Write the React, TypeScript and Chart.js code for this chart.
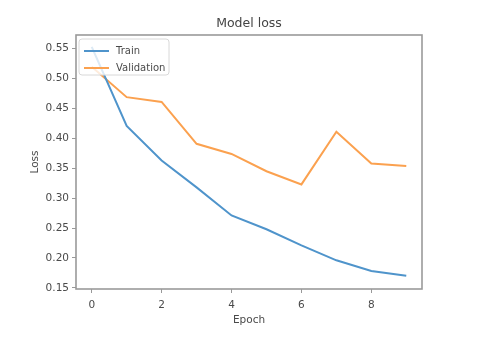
import React, { useEffect, useRef } from "react";
import { Chart, registerables } from "chart.js";

Chart.register(...registerables);

const epochs = [0, 1, 2, 3, 4, 5, 6, 7, 8, 9];
const trainLoss = [0.553, 0.421, 0.363, 0.318, 0.271, 0.248, 0.221, 0.196, 0.178, 0.17];
const valLoss = [0.52, 0.469, 0.461, 0.391, 0.374, 0.345, 0.323, 0.411, 0.358, 0.354];
const seriesNames = ["Train", "Validation"];
const xTicks = [0, 2, 4, 6, 8];
const yTicks = [0.15, 0.2, 0.25, 0.3, 0.35, 0.4, 0.45, 0.5, 0.55];
const titleText = "Model loss";
const xLabel = "Epoch";
const yLabel = "Loss";

const BLUE = "#4f94cb";
const ORANGE = "#fba14f";
const FONT = "'DejaVu Sans', sans-serif";
const TEXT = "#4a4a4a";

const framePlugin = {
  id: "frameLegendTitle",
  afterDraw(chart: any) {
    const { ctx, chartArea } = chart;
    const { left, right, top, bottom } = chartArea;
    const cx = (left + right) / 2;
    const cy = (top + bottom) / 2;
    ctx.save();
    // frame
    ctx.strokeStyle = "#9a9a9a";
    ctx.lineWidth = 1.6;
    ctx.strokeRect(left, top, right - left, bottom - top);
    // title
    ctx.fillStyle = "#444";
    ctx.font = `12.5px ${FONT}`;
    ctx.textAlign = "center";
    ctx.textBaseline = "middle";
    ctx.fillText(titleText, cx, 24);
    // axis titles
    ctx.fillStyle = TEXT;
    ctx.font = `10.5px ${FONT}`;
    ctx.fillText(xLabel, cx, 320);
    ctx.save();
    ctx.translate(35, cy);
    ctx.rotate(-Math.PI / 2);
    ctx.fillText(yLabel, 0, 0);
    ctx.restore();
    // legend
    const lx = left + 3, ly = top + 4, lw = 90, lh = 36;
    ctx.fillStyle = "rgba(255,255,255,0.8)";
    ctx.strokeStyle = "#d8d8d8";
    ctx.lineWidth = 1;
    ctx.beginPath();
    (ctx as any).roundRect(lx, ly, lw, lh, 3);
    ctx.fill();
    ctx.stroke();
    const colors = [BLUE, ORANGE];
    ctx.font = `10px ${FONT}`;
    ctx.textAlign = "left";
    seriesNames.forEach((name, i) => {
      const yy = ly + 12 + i * 17;
      ctx.strokeStyle = colors[i];
      ctx.lineWidth = 2;
      ctx.beginPath();
      ctx.moveTo(lx + 5, yy);
      ctx.lineTo(lx + 30, yy);
      ctx.stroke();
      ctx.fillStyle = TEXT;
      ctx.fillText(name, lx + 37, yy);
    });
    ctx.restore();
  },
};

export default function App() {
  const ref = useRef<HTMLCanvasElement>(null);
  useEffect(() => {
    document.body.style.margin = "0";
    const chart = new Chart(ref.current!, {
      type: "line",
      data: {
        datasets: [
          {
            label: seriesNames[0],
            data: epochs.map((e, i) => ({ x: e, y: trainLoss[i] })),
            borderColor: BLUE,
            borderWidth: 2,
            pointRadius: 0,
            tension: 0,
          },
          {
            label: seriesNames[1],
            data: epochs.map((e, i) => ({ x: e, y: valLoss[i] })),
            borderColor: ORANGE,
            borderWidth: 2,
            pointRadius: 0,
            tension: 0,
          },
        ],
      },
      options: {
        animation: false,
        responsive: false,
        layout: { padding: { left: 0, right: 65, top: 35, bottom: 0 } },
        plugins: {
          legend: { display: false },
          title: { display: false },
          tooltip: { enabled: false },
        },
        scales: {
          x: {
            type: "linear",
            min: -0.45,
            max: 9.45,
            afterBuildTicks: (s: any) => {
              s.ticks = xTicks.map((v) => ({ value: v }));
            },
            afterFit: (s: any) => {
              s.height = 60;
            },
            grid: {
              drawOnChartArea: false,
              drawTicks: true,
              tickLength: 4,
              color: "#999",
            },
            border: { display: false },
            ticks: {
              color: TEXT,
              font: { family: FONT, size: 10.5 },
              padding: 6,
              maxRotation: 0,
              callback: (v: any) => String(v),
            },
          },
          y: {
            type: "linear",
            min: 0.148,
            max: 0.573,
            afterBuildTicks: (s: any) => {
              s.ticks = yTicks.map((v) => ({ value: v }));
            },
            afterFit: (s: any) => {
              s.width = 76;
            },
            grid: {
              drawOnChartArea: false,
              drawTicks: true,
              tickLength: 4,
              color: "#999",
            },
            border: { display: false },
            ticks: {
              color: TEXT,
              font: { family: FONT, size: 10.5 },
              padding: 3,
              callback: (v: any) => Number(v).toFixed(2),
            },
          },
        },
      },
      plugins: [framePlugin],
    } as any);
    return () => chart.destroy();
  }, []);
  return (
    <div style={{ position: "absolute", left: 0, top: 0, width: 487, height: 349, background: "#fff" }}>
      <canvas ref={ref} width={487} height={349} style={{ width: 487, height: 349 }} />
    </div>
  );
}
